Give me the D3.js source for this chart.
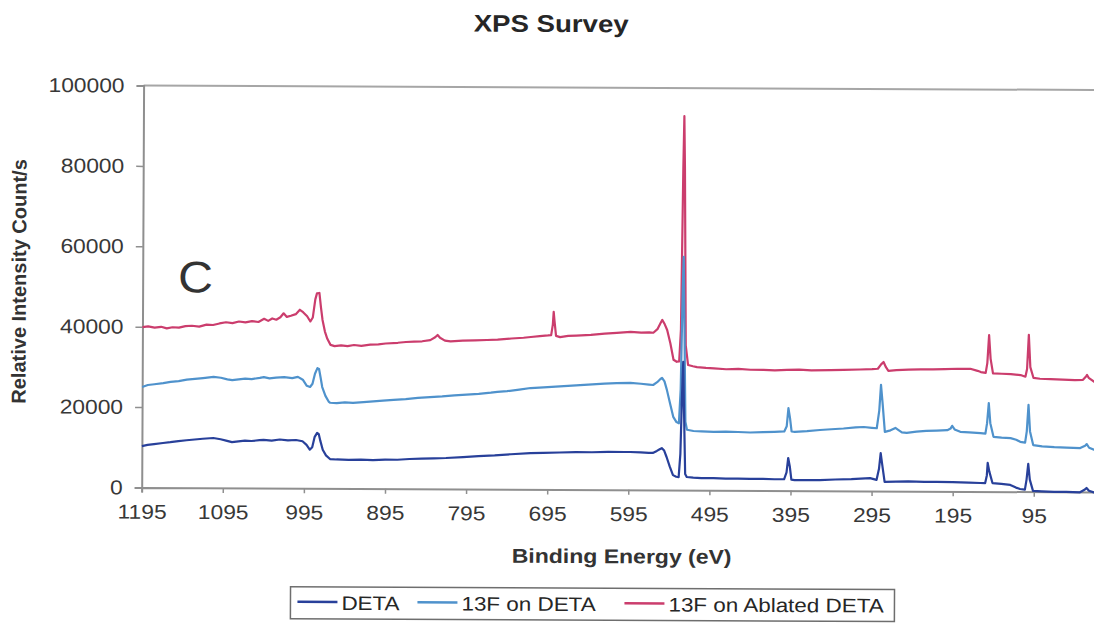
<!DOCTYPE html>
<html>
<head>
<meta charset="utf-8">
<script src="https://cdn.jsdelivr.net/npm/d3@7"></script>
<style>
  html, body { margin: 0; padding: 0; background: #ffffff; }
  svg { display: block; }
  text { font-family: Arial, "Liberation Sans", Helvetica, sans-serif; }
</style>
</head>
<body>
<svg id="chart" width="1094" height="624"></svg>
<script>
// ---- data -------------------------------------------------------------
const seriesNames = ["DETA", "13F on DETA", "13F on Ablated DETA"];
const seriesColors = ["#28409a", "#4f92cc", "#cb3d6d"];

const xTickValues = [1195, 1095, 995, 895, 795, 695, 595, 495, 395, 295, 195, 95];
const xTickLabels = ["1195", "1095", "995", "895", "795", "695", "595", "495", "395", "295", "195", "95"];
const yTickValues = [0, 20000, 40000, 60000, 80000, 100000];

// [binding energy (eV), counts/s]
const detaCounts = [
  [1195, 10300], [1188, 10600], [1180, 10800], [1169, 11100], [1160, 11300], [1150, 11600],
  [1140, 11800], [1130, 12000], [1120, 12200], [1107, 12400], [1098, 12100], [1090, 11700],
  [1084, 11400], [1076, 11600], [1068, 11800], [1060, 11700], [1050, 11900], [1045, 12000],
  [1035, 11800], [1025, 12100], [1015, 11900], [1005, 12000], [997, 11700], [992, 10800],
  [988, 9600], [985, 10200], [982, 12800], [979, 13800], [977, 13500], [975, 11800],
  [972, 9600], [968, 8200], [963, 7300], [955, 7200], [940, 7100], [925, 7200], [910, 7100],
  [895, 7200], [880, 7200], [865, 7400], [850, 7500], [835, 7600], [820, 7700], [799, 7950],
  [780, 8200], [760, 8400], [740, 8700], [716, 9000], [700, 9100], [680, 9200], [660, 9300],
  [640, 9300], [620, 9400], [600, 9400], [593, 9400], [580, 9300], [570, 9200], [565, 9200],
  [560, 9700], [556, 10200], [554, 10400], [551, 9800], [548, 8200], [544, 5800], [540, 3700],
  [536, 3300], [533, 3200], [531, 9000], [529, 26000], [528, 31900], [527, 22000], [525, 4000],
  [523, 3250], [515, 3100], [505, 3000], [490, 3000], [475, 2900], [460, 2900], [445, 2850],
  [429, 2850], [415, 2800], [403, 2800], [400, 4500], [398, 8100], [396, 6000], [394, 2700],
  [390, 2600], [375, 2600], [359, 2650], [340, 2800], [320, 2900], [297, 3200], [289, 2750],
  [286, 5500], [284, 9400], [282, 6500], [279, 2250], [265, 2350], [250, 2400], [230, 2300],
  [215, 2350], [195, 2300], [175, 2200], [161, 2100], [155, 2100], [153, 4000], [152, 7100],
  [150, 5000], [146, 2100], [135, 1900], [124, 1650], [117, 1000], [112, 650], [106, 500],
  [104, 3000], [102, 6900], [100, 3000], [96, 200], [85, 100], [70, 0], [55, 0], [38, -100],
  [32, 600], [30, 1000], [27, 300], [21, -100], [10, -200], [0, -200]
];

const f13DetaCounts = [
  [1195, 25000], [1188, 25500], [1180, 25700], [1169, 26000], [1160, 26300], [1150, 26500],
  [1140, 26900], [1130, 27100], [1120, 27300], [1107, 27600], [1098, 27400], [1090, 27000],
  [1084, 26800], [1076, 27000], [1068, 27200], [1060, 27100], [1050, 27400], [1045, 27600],
  [1038, 27300], [1030, 27500], [1020, 27600], [1010, 27400], [1003, 27700], [997, 27000],
  [992, 25500], [988, 25200], [985, 26000], [982, 28500], [979, 29900], [977, 29700],
  [975, 27500], [973, 25200], [969, 23000], [965, 21600], [963, 21300], [955, 21200],
  [945, 21400], [935, 21300], [922, 21500], [910, 21700], [898, 21900], [885, 22100],
  [870, 22300], [855, 22600], [840, 22800], [825, 23000], [810, 23300], [795, 23500],
  [780, 23700], [765, 24000], [757, 24200], [745, 24400], [730, 24800], [716, 25200],
  [700, 25400], [685, 25600], [670, 25800], [655, 26000], [640, 26200], [625, 26400],
  [610, 26500], [593, 26600], [580, 26400], [570, 26200], [565, 26100], [560, 26800],
  [556, 27600], [554, 27900], [551, 27000], [548, 24900], [544, 21500], [540, 18200],
  [536, 16900], [533, 16600], [531, 25000], [529, 50000], [528, 58000], [527, 45000],
  [525, 17000], [523, 15000], [515, 14700], [505, 14600], [490, 14500], [475, 14600],
  [460, 14500], [445, 14400], [429, 14500], [415, 14600], [403, 14700], [400, 16000],
  [398, 20500], [396, 18000], [394, 14700], [390, 14600], [375, 14800], [359, 15100],
  [345, 15300], [330, 15500], [315, 15800], [305, 15900], [295, 15700], [289, 15600],
  [286, 20000], [284, 26400], [282, 22000], [279, 14700], [272, 15100], [266, 15700],
  [263, 15300], [258, 14600], [252, 14500], [240, 14800], [228, 15000], [215, 15100],
  [202, 15200], [198, 15600], [196, 16300], [193, 15400], [186, 14800], [175, 14700],
  [161, 14500], [155, 14400], [153, 17000], [151, 22000], [149, 17000], [145, 13600],
  [135, 13400], [124, 13300], [117, 12900], [112, 12400], [106, 12200], [104, 15000],
  [102, 21600], [100, 15000], [96, 11600], [85, 11300], [70, 11100], [55, 11000],
  [38, 10900], [32, 11500], [30, 11900], [27, 11000], [21, 10500], [10, 10300], [0, 10200]
];

const f13AblatedCounts = [
  [1195, 39900], [1188, 40100], [1180, 39800], [1172, 40000], [1165, 39600], [1158, 39900],
  [1150, 39800], [1142, 40200], [1134, 40300], [1125, 40100], [1116, 40600], [1108, 40500],
  [1100, 40900], [1092, 41200], [1084, 41000], [1076, 41400], [1068, 41200], [1060, 41500],
  [1052, 41300], [1045, 42100], [1040, 41600], [1035, 42200], [1030, 41900], [1025, 42500],
  [1021, 43500], [1017, 42600], [1012, 42900], [1006, 43300], [1001, 44400], [997, 43800],
  [992, 42800], [988, 41500], [985, 42500], [982, 47000], [980, 48500], [977, 48600],
  [975, 45000], [973, 41900], [970, 39000], [967, 37200], [963, 35700], [958, 35400],
  [950, 35600], [942, 35400], [934, 35700], [925, 35500], [914, 35800], [904, 35900],
  [895, 36100], [880, 36300], [870, 36500], [860, 36600], [850, 36700], [840, 37000],
  [834, 37700], [831, 38300], [828, 37600], [822, 36900], [815, 36700], [800, 36900],
  [785, 37000], [770, 37100], [757, 37200], [740, 37500], [725, 37700], [716, 37900],
  [705, 38100], [695, 38300], [691, 38400], [689, 41000], [688, 44200], [687, 42000],
  [685, 38200], [680, 37900], [670, 38200], [660, 38300], [642, 38500], [625, 38800],
  [610, 39000], [593, 39300], [580, 39100], [570, 39200], [565, 39100], [560, 40000],
  [556, 41600], [554, 42300], [551, 41200], [548, 39800], [544, 36500], [540, 32400],
  [536, 31900], [533, 32000], [531, 40000], [529, 80000], [528, 93000], [527, 80000],
  [525, 36000], [522, 31100], [516, 30800], [511, 30600], [500, 30400], [490, 30300],
  [475, 30100], [460, 30200], [445, 30000], [429, 30000], [415, 29900], [400, 30000],
  [385, 30100], [370, 29900], [346, 30000], [330, 30100], [310, 30200], [295, 30300],
  [288, 30400], [284, 31500], [281, 32100], [278, 30800], [275, 29900], [265, 30100],
  [250, 30200], [235, 30300], [220, 30300], [205, 30400], [190, 30500], [174, 30500],
  [165, 30000], [161, 29700], [155, 29500], [153, 32000], [151, 38900], [149, 33000],
  [146, 29400], [135, 29300], [124, 29200], [112, 29000], [106, 28600], [104, 30500],
  [102, 39000], [100, 31000], [96, 28300], [88, 28100], [75, 28000], [60, 27900],
  [45, 27800], [35, 27900], [31, 28800], [30, 29100], [28, 28400], [21, 27400],
  [10, 27300], [0, 27200]
];

// ---- layout -----------------------------------------------------------
const plotLeft = 141.7, plotTop = 85.5, plotBottom = 487.5;
const pxPerEv = 0.811;
const svg = d3.select("#chart");
// the whole figure sits very slightly tilted
const root = svg.append("g").attr("transform", `rotate(0.27, ${plotLeft}, ${plotBottom})`);

const x = d3.scaleLinear().domain([1195, 0]).range([plotLeft, plotLeft + 1195 * pxPerEv]);
const y = d3.scaleLinear().domain([0, 100000]).range([plotBottom, plotTop]);

// stretch text horizontally along its baseline
function widen(sel, k) {
  sel.each(function () {
    const w = this.getComputedTextLength();
    d3.select(this).attr("textLength", w * k).attr("lengthAdjust", "spacingAndGlyphs");
  });
}

// title
root.append("text")
  .attr("x", 549).attr("y", 30)
  .attr("text-anchor", "middle")
  .attr("font-size", 24).attr("font-weight", "bold").attr("fill", "#262626")
  .text("XPS Survey")
  .call(widen, 1.15);

// plot frame top edge
root.append("line")
  .attr("x1", plotLeft).attr("x2", 1200)
  .attr("y1", plotTop).attr("y2", plotTop)
  .attr("stroke", "#a6a6a6").attr("stroke-width", 2);

// y axis
const yAxis = root.append("g")
  .attr("transform", `translate(${plotLeft},0)`)
  .call(d3.axisLeft(y).tickValues(yTickValues).tickFormat(d3.format("d")).tickSize(7).tickPadding(12));
yAxis.select(".domain").attr("stroke", "#8f8f8f").attr("stroke-width", 2);
yAxis.selectAll(".tick line").attr("stroke", "#8f8f8f").attr("stroke-width", 1.5);
yAxis.selectAll(".tick text")
  .attr("font-size", 20).attr("fill", "#383838").attr("font-family", "Arial, 'Liberation Sans', sans-serif")
  .call(widen, 1.14);

// x axis
const xAxis = root.append("g")
  .attr("transform", `translate(0,${plotBottom})`)
  .call(d3.axisBottom(x).tickValues(xTickValues)
    .tickFormat((d, i) => xTickLabels[i]).tickSize(5).tickPadding(12));
xAxis.select(".domain").attr("stroke", "#8f8f8f").attr("stroke-width", 2);
xAxis.selectAll(".tick line").attr("stroke", "#8f8f8f").attr("stroke-width", 1.5);
xAxis.selectAll(".tick text")
  .attr("font-size", 20).attr("fill", "#383838").attr("font-family", "Arial, 'Liberation Sans', sans-serif")
  .call(widen, 1.14);

// axis titles
root.append("text")
  .attr("x", 622).attr("y", 561)
  .attr("text-anchor", "middle")
  .attr("font-size", 20).attr("font-weight", "bold").attr("fill", "#333")
  .text("Binding Energy (eV)")
  .call(widen, 1.15);

root.append("text")
  .attr("transform", "translate(25,282) rotate(-90)")
  .attr("text-anchor", "middle")
  .attr("font-size", 20).attr("font-weight", "bold").attr("fill", "#333")
  .text("Relative Intensity Count/s");

// panel letter
root.append("text")
  .attr("x", 177).attr("y", 292)
  .attr("font-family", "'Liberation Serif', 'Times New Roman', serif")
  .attr("font-size", 44).attr("fill", "#333")
  .text("C")
  .call(widen, 1.1);

// spectra (drawn so DETA ends up on top)
const line = d3.line().x(d => x(d[0])).y(d => y(d[1]));
const spectra = [detaCounts, f13DetaCounts, f13AblatedCounts];
[2, 1, 0].forEach(i => {
  root.append("path")
    .datum(spectra[i])
    .attr("d", line)
    .attr("fill", "none")
    .attr("stroke", seriesColors[i])
    .attr("stroke-width", 2.2)
    .attr("stroke-linejoin", "round");
});

// legend
const legend = root.append("g");
legend.append("rect")
  .attr("x", 291).attr("y", 586).attr("width", 604).attr("height", 32)
  .attr("fill", "#fff").attr("stroke", "#6e6e6e").attr("stroke-width", 1.5);
const legendX = [298, 418, 625];
seriesNames.forEach((name, i) => {
  legend.append("line")
    .attr("x1", legendX[i]).attr("x2", legendX[i] + 40)
    .attr("y1", 601).attr("y2", 601)
    .attr("stroke", seriesColors[i]).attr("stroke-width", 2.5);
  legend.append("text")
    .attr("x", legendX[i] + 44).attr("y", 609)
    .attr("font-size", 19.5).attr("fill", "#262626")
    .text(name)
    .call(widen, 1.15);
});
</script>
</body>
</html>
